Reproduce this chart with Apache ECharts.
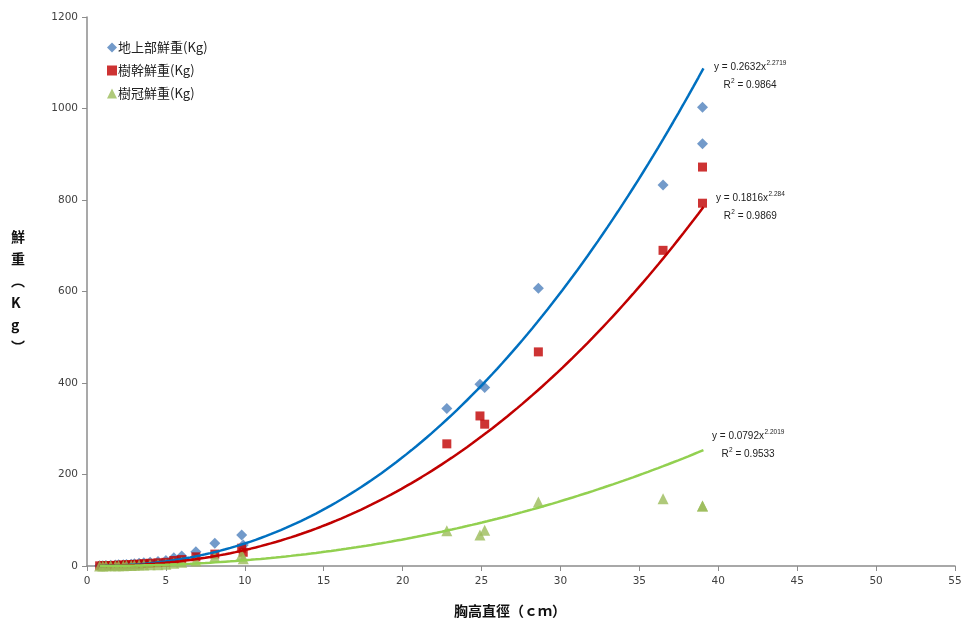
<!DOCTYPE html>
<html><head><meta charset="utf-8">
<script src="https://cdn.jsdelivr.net/npm/echarts@6/dist/echarts.min.js"></script>
<style>html,body{margin:0;padding:0;background:#fff}#c{width:965px;height:628px}</style>
</head><body><div id="c"></div>
<script>
// ---- data ----
const seriesNames = ['地上部鮮重(Kg)', '樹幹鮮重(Kg)', '樹冠鮮重(Kg)'];
const dbh = [0.8,1.0,1.2,1.5,1.8,2.0,2.3,2.5,2.8,3.0,3.3,3.6,4.0,4.5,5.0,5.5,6.0,6.9,8.1,9.8,9.9,22.8,24.9,25.2,28.6,36.5,39.0,39.0];
const aboveGround = [0.5,0.7,1,1.5,2,2.5,3,3.5,4,5,6,7,8,10,12,18,22,31,50,68,46,344,397,390,607,833,1003,923];
const stem        = [0.4,0.5,0.7,1,1.4,1.8,2.2,2.5,3,3.5,4,5,6,7,8,12,14,20,26,39,30,267,328,310,468,690,872,793];
const crown       = [0.1,0.2,0.3,0.5,0.6,0.7,0.8,1,1,1.5,2,2,2.5,3,4,6,8,11,20,25,16,77,68,78,140,147,131,131];
const fitA = [0.2632, 0.1816, 0.0792];
const fitB = [2.2719, 2.284, 2.2019];
const fitR2 = ['0.9864', '0.9869', '0.9533'];
const fitRange = [0.8, 39.06];
const xTicks = {min:0, max:55, interval:5};
const yTicks = {min:0, max:1200, interval:200};

const markerColors = ['#4F81BD', '#C00000', '#9BBB59'];
const lineColors = ['#0070C0', '#C00000', '#92D050'];
const symbols = ['diamond', 'rect', 'triangle'];
const symbolSizes = [11, 9, 11];
const values = [aboveGround, stem, crown];

function trend(i){
  const pts = [];
  const n = 120;
  for (let k=0;k<=n;k++){
    const x = fitRange[0] + (fitRange[1]-fitRange[0])*k/n;
    pts.push([x, fitA[i]*Math.pow(x, fitB[i])]);
  }
  return pts;
}

const series = [];
values.forEach((v,i)=>{
  series.push({
    name: seriesNames[i], type:'scatter', symbol: symbols[i], symbolSize: symbolSizes[i],
    itemStyle:{color: markerColors[i]}, z:2,
    data: dbh.map((x,k)=>[x, v[k]])
  });
});
values.forEach((v,i)=>{
  series.push({
    type:'line', showSymbol:false, symbol:'none', smooth:false, z:3,
    lineStyle:{color: lineColors[i], width:2.5}, data: trend(i), silent:true
  });
});

const chart = echarts.init(document.getElementById('c'), null, {renderer:'canvas'});
const axisLine = {show:true, lineStyle:{color:'#8c8c8c', width:1.5}};
const labelFont = {fontFamily:'DejaVu Sans', fontSize:10.5, color:'#404040'};

const measureCtx = document.createElement('canvas').getContext('2d');
function textW(t, font){ measureCtx.font = font; return measureCtx.measureText(t).width; }
const eqFont = '10px "Liberation Sans"';
const supFont = '6.5px "Liberation Sans"';
const eqPos = [[714,62],[716,193],[712,431]];
const graphics = [];
eqPos.forEach((p,i)=>{
  const main = 'y = ' + fitA[i] + 'x';
  const sup = String(fitB[i]);
  const w = textW(main, eqFont);
  const wAll = w + textW(sup, supFont);
  graphics.push({type:'text', left:p[0], top:p[1], z:10, style:{text:main, font:eqFont, fill:'#222'}});
  graphics.push({type:'text', left:p[0]+w+0.5, top:p[1]-2, z:10, style:{text:sup, font:supFont, fill:'#222'}});
  const r1 = 'R', r2 = ' = ' + fitR2[i];
  const wr = textW(r1, eqFont) + textW('2', supFont) + textW(r2, eqFont);
  const rx = p[0] + (wAll - wr)/2;
  const ry = p[1] + 18;
  graphics.push({type:'text', left:rx, top:ry, z:10, style:{text:r1, font:eqFont, fill:'#222'}});
  graphics.push({type:'text', left:rx+textW(r1,eqFont)+0.3, top:ry-2, z:10, style:{text:'2', font:supFont, fill:'#222'}});
  graphics.push({type:'text', left:rx+textW(r1,eqFont)+textW('2',supFont)+0.3, top:ry, z:10, style:{text:r2, font:eqFont, fill:'#222'}});
});
graphics.push({
  type:'text', left:11, top:226, z:10,
  style:{text:'鮮\n重\n︵\nK\ng\n︶', font:'bold 14px "Noto Sans CJK TC"', fill:'#111', lineHeight:22, align:'center'}
});
graphics.push({
  type:'text', left:454, top:604, z:10,
  style:{text:'胸高直徑（ｃｍ）', font:'bold 14px "Noto Sans CJK TC"', fill:'#111'}
});

chart.setOption({
  animation:false,
  backgroundColor:'#fff',
  grid:{left:87, right:10, top:17, bottom:62, containLabel:false},
  legend:{
    orient:'vertical', left:102, top:36, itemGap:10, itemWidth:10, itemHeight:10,
    data: seriesNames.map((n,i)=>({name:n, icon: symbols[i]})),
    textStyle:{fontFamily:'Noto Sans CJK TC', fontSize:13, color:'#222', padding:[0,0,0,-4]}
  },
  xAxis:{
    type:'value', min:xTicks.min, max:xTicks.max, interval:xTicks.interval,
    axisLine: axisLine, axisTick:{show:true, inside:false, length:5, lineStyle:{color:'#8c8c8c'}},
    splitLine:{show:false}, axisLabel: Object.assign({margin:10, formatter: v => String(v)}, labelFont)
  },
  yAxis:{
    type:'value', min:yTicks.min, max:yTicks.max, interval:yTicks.interval,
    axisLine: axisLine, axisTick:{show:true, inside:false, length:5, lineStyle:{color:'#8c8c8c'}},
    splitLine:{show:false}, axisLabel: Object.assign({margin:9, formatter: v => String(v)}, labelFont)
  },
  graphic: graphics,
  series: series
});
</script>
</body></html>
